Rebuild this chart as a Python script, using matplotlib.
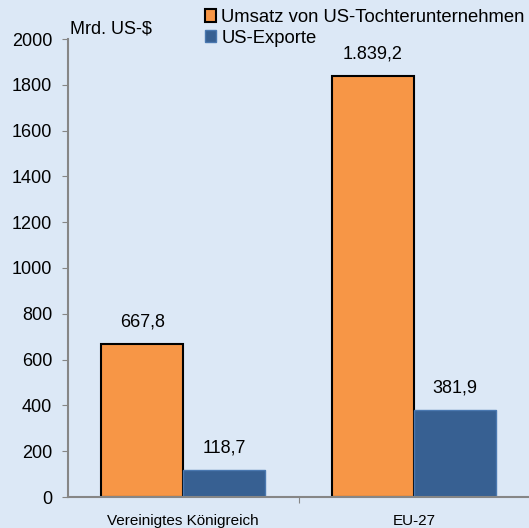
import numpy as np
import matplotlib.pyplot as plt

plt.rcParams['font.family'] = ['Liberation Sans', 'DejaVu Sans']

categories = ['Vereinigtes Königreich', 'EU-27']
umsatz = [667.8, 1839.2]
exporte = [118.7, 381.9]
umsatz_labels = ['667,8', '1.839,2']
exporte_labels = ['118,7', '381,9']
yticks = [0, 200, 400, 600, 800, 1000, 1200, 1400, 1600, 1800, 2000]

bg = '#dce8f6'
orange = '#f79646'
blue = '#376092'

fig = plt.figure(figsize=(5.29, 5.28), dpi=100)
fig.patch.set_facecolor(bg)
ax = fig.add_axes([68/529, 31/528, 1 - 68/529, 458/528])
ax.set_facecolor(bg)

x = np.arange(len(categories))
w = 0.355
b1 = ax.bar(x - w/2, umsatz, w, color=orange, edgecolor='black', linewidth=1.5,
            label='Umsatz von US-Tochterunternehmen')
b2 = ax.bar(x + w/2, exporte, w, color=blue, edgecolor='#4a78b0', linewidth=1,
            label='US-Exporte')

# data labels above bars
for rect, lab in zip(b1, umsatz_labels):
    ax.text(rect.get_x() + rect.get_width()/2, rect.get_height() + 95, lab,
            ha='center', va='center', fontsize=13)
for rect, lab in zip(b2, exporte_labels):
    ax.text(rect.get_x() + rect.get_width()/2, rect.get_height() + 95, lab,
            ha='center', va='center', fontsize=13)

ax.set_xlim(-0.5, 1.5)
ax.set_ylim(0, 2000)
ax.set_yticks(yticks)
ax.set_yticklabels([str(t) for t in yticks], fontsize=13)
ax.set_xticks([0.5])
ax.set_xticklabels([''])
ax.set_xticks(x, minor=True)
ax.set_xticklabels(categories, minor=True, fontsize=11)
ax.tick_params(axis='x', which='minor', length=0, pad=12)
ax.tick_params(axis='x', which='major', length=4, direction='out', color='#868686')
ax.tick_params(axis='y', length=4.3, color='#868686', pad=7)
for s in ['top', 'right']:
    ax.spines[s].set_visible(False)
for s in ['left', 'bottom']:
    ax.spines[s].set_color('#868686')
    ax.spines[s].set_linewidth(1.5)

fig.text(70/529, 1 - 29/528, 'Mrd. US-$', fontsize=13, ha='left', va='center')
ax.legend(loc='upper left', bbox_to_anchor=(205/529, 1 - 9/528), bbox_transform=fig.transFigure,
          frameon=False, fontsize=13.3, handlelength=0.62, handleheight=0.65,
          handletextpad=0.27, labelspacing=0.2, borderaxespad=0, borderpad=0)

fig.savefig('out.png', dpi=100, facecolor=bg)
